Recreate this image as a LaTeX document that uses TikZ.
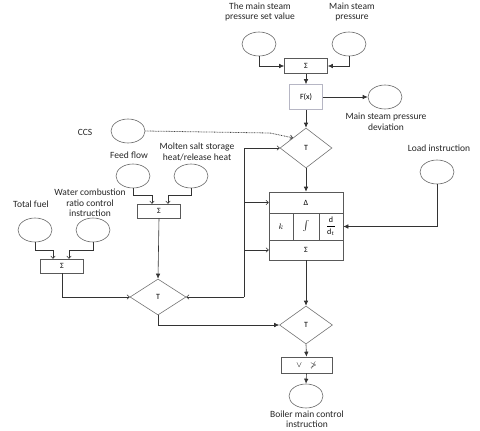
\documentclass[tikz,border=0pt]{standalone}
\usepackage{fontspec}
\setmainfont{Carlito}
\usetikzlibrary{shapes.geometric,arrows.meta}
\begin{document}
\begin{tikzpicture}[x=1pt,y=-1pt,
  every node/.style={font=\fontsize{9.5}{10.5}\selectfont},
  circ/.style={ellipse,draw=black!60,line width=0.6pt,minimum width=34pt,minimum height=24pt,inner sep=0pt},
  boxn/.style={rectangle,draw=black!65,line width=0.6pt,minimum width=43pt,minimum height=15pt,inner sep=0pt,font=\fontsize{8}{9}\selectfont},
  dia/.style={diamond,draw=black!55,line width=0.6pt,inner sep=0pt,font=\fontsize{8}{9}\selectfont},
  cell/.style={rectangle,draw=black!65,line width=0.6pt,inner sep=0pt,font=\fontsize{8}{9}\selectfont},
  lbl/.style={align=center,text=black!85},
  ln/.style={draw=black!80,line width=0.6pt},
  farr/.style={ln,-{Latex[length=5pt,width=4.5pt]}},
  oarr/.style={ln,-{To[length=3pt,width=5pt]}}
]
\useasboundingbox (0,0) rectangle (480,431);

% top
\node[circ] (c1) at (259,44) {};
\node[circ] (c2) at (349,44) {};
\node[lbl] (l1) at (260,12) {The main steam\\pressure set value};
\node[lbl] (l2) at (352,12) {Main steam\\pressure};
\node[boxn] (s1) at (306,66) {Σ};
\node[rectangle,draw=black!25!blue!15!gray!50,line width=0.6pt,minimum width=33pt,minimum height=25pt,inner sep=0pt,font=\fontsize{8}{9}\selectfont] (fx) at (306,97) {F(x)};
\node[circ] (c3) at (385,97) {};
\node[lbl] (l3) at (386,122) {Main steam pressure\\deviation};

% T1
\node[dia,minimum width=52pt,minimum height=40pt] (t1) at (306,148) {T};
\node[circ] (ccs) at (128,131) {};
\node[lbl] (lccs) at (85,132) {CCS};
\coordinate (ccsb) at (270,133);

% feed / molten
\node[circ] (feed) at (133,176) {};
\node[circ] (molt) at (191,176) {};
\node[lbl] (lfeed) at (129,155) {Feed flow};
\node[lbl] (lmolt) at (197,152) {Molten salt storage\\heat/release heat};
\node[boxn,minimum height=14pt] (s2) at (159,211) {Σ};

% fuel / water
\node[circ] (fuel) at (35,230) {};
\node[circ] (water) at (93,230) {};
\node[lbl] (lfuel) at (31,204) {Total fuel};
\node[lbl] (lwater) at (90,203) {Water combustion\\ratio control\\instruction};
\node[boxn,minimum height=14pt] (s3) at (62,266) {Σ};

% T2
\node[dia,minimum width=56pt,minimum height=36pt] (t2) at (158,297) {T};

% block
\node[cell,minimum width=74pt,minimum height=21pt] (dl) at (306,202.5) {Δ};
\node[cell,minimum width=24pt,minimum height=27pt] (ck) at (281,226.5) {$k$};
\node[cell,minimum width=26pt,minimum height=27pt] (ci) at (306,226.5) {$\int$};
\node[cell,minimum width=24pt,minimum height=27pt] (cd) at (331,226.5) {$\displaystyle\frac{\mathrm{d}}{\mathrm{d}_t}$};
\node[cell,minimum width=74pt,minimum height=20pt] (sg) at (306,250) {Σ};

% load
\node[circ] (load) at (437,172) {};
\node[lbl] (lload) at (439,148) {Load instruction};

% T3 and output
\node[dia,minimum width=53pt,minimum height=38pt] (t3) at (306,325) {T};
\node[boxn,minimum width=51pt,minimum height=16pt] (b4) at (306.5,365) {$\vee$\quad$\not>$};
\node[circ] (out) at (306,396) {};
\node[lbl] (lout) at (307,419) {Boiler main control\\instruction};

% bus
\coordinate (bt) at (244,148);
\coordinate (bb) at (244,297);

% connectors
\draw[farr] (c1.south) |- (s1.west);
\draw[farr] (c2.south) |- (s1.east);
\draw[farr] (s1.south) -- (fx.north);
\draw[farr] (fx.east) -- (c3.west);
\draw[farr] (fx.south) -- (t1.north);
\draw[draw=black!75,line width=0.8pt,dash pattern=on 0.8pt off 0.8pt,-{To[length=3pt,width=5pt]}] (ccs.east) -- (ccsb) -- (t1.north west);
\draw[farr] (t1.south) -- (dl.north);
\draw[farr] (load.south) |- (cd.east);
\draw[ln] (bt) -- (bb);
\draw[oarr] (bt) -- (t1.west);
\draw[oarr] (bt |- dl.west) -- (dl.west);
\draw[oarr] (bt |- sg.west) -- (sg.west);
\draw[oarr] (bb) -- (t2.east);
\draw[oarr] (feed.south) -- ++(0,7) -| ([xshift=-7pt]s2.north);
\draw[oarr] (molt.south) -- ++(0,7) -| ([xshift=9pt]s2.north);
\draw[oarr] (fuel.south) -- ++(0,8) -| ([xshift=-9pt]s3.north);
\draw[oarr] (water.south) -- ++(0,8) -| ([xshift=7pt]s3.north);
\draw[oarr] (s3.south) |- (t2.west);
\draw[farr] (s2.south) -- (t2.north);
\draw[farr] (t2.south) |- (t3.west);
\draw[farr] (sg.south) -- (t3.north);
\draw[farr] (t3.south) -- (b4.north);
\draw[farr] (b4.south) -- (out.north);
\end{tikzpicture}
\end{document}
